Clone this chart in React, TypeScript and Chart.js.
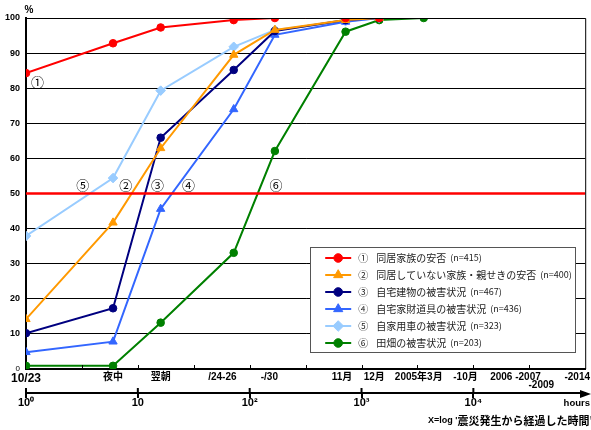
import React, { useEffect, useRef } from 'react';
import { Chart, registerables } from 'chart.js';
import { drawPoint } from 'chart.js/helpers';

Chart.register(...registerables);

// ---- data ----
const HOURS = [1, 6, 16, 72, 168, 720, 1440, 3600];
const SERIES_MARKS = ['①', '②', '③', '④', '⑤', '⑥'];
const SERIES_NAMES = [
  '同居家族の安否',
  '同居していない家族・親せきの安否',
  '自宅建物の被害状況',
  '自宅家財道具の被害状況',
  '自家用車の被害状況',
  '田畑の被害状況',
];
const SERIES_N = [415, 400, 467, 436, 323, 203];
const SAFETY_FAMILY = [84.3, 92.8, 97.3, 99.4, 100, 100, 100];
const SAFETY_RELATIVES = [14.2, 41.7, 62.9, 89.5, 96.6, 99.4, 100];
const HOUSE = [10.2, 17.3, 65.9, 85.2, 96.3, 99.4, 100];
const FURNITURE = [4.8, 7.8, 45.6, 74.0, 95.2, 98.9, 100];
const CAR = [37.9, 54.4, 79.3, 91.8, 96.6, 99.1, 100];
const FIELD = [0.9, 0.9, 13.2, 33.1, 62.1, 96.1, 99.4, 100];
const SERIES_COLORS = ['#FF0000', '#FF9900', '#000080', '#3366FF', '#99CCFF', '#008000'];
const SERIES_STYLES = ['circle', 'triangle', 'circle', 'triangle', 'rectRot', 'circle'];
const SERIES_VALUES = [SAFETY_FAMILY, SAFETY_RELATIVES, HOUSE, FURNITURE, CAR, FIELD];

const CAT_LABELS = ['10/23', '夜中', '翌朝', '/24-26', '-/30', '11月', '12月', '2005年3月', '-10月', '2006 -2007', '-2009', '-2014'];
const CAT_HOURS = [1, 6, 16, 57, 150, 670, 1300, 3250, 8500, 23800, 40500, 84900];
const DECADES = [1, 10, 100, 1000, 10000];
const DECADE_LABELS = ['10⁰', '10', '10²', '10³', '10⁴'];
const HALF_DECADES = [0.5, 1, 1.5, 2, 2.5, 3, 3.5, 4, 4.5].map((e) => Math.pow(10, e));
const THRESHOLD = 50;
const X_MIN = 1;
const X_MAX = 100000;

const SANS = "'Liberation Sans', Arial, 'Noto Sans CJK JP', sans-serif";
const JP = "'Noto Sans CJK JP', 'Noto Sans', sans-serif";

// annotation anchors in data coordinates (hours, %)
const ANNOT_POS: [number, number][] = [
  [1.27, 81.8],
  [7.8, 52.4],
  [15.0, 52.4],
  [28.4, 52.4],
  [3.22, 52.4],
  [172, 52.4],
];

const decorPlugin = {
  id: 'decor',
  afterDraw(chart: any) {
    const { ctx, chartArea: a, scales } = chart;
    const x = scales.x;
    const xh = scales.xh;
    const y = scales.y;
    ctx.save();
    // frame top / right
    ctx.strokeStyle = '#000';
    ctx.lineWidth = 1;
    ctx.beginPath();
    ctx.moveTo(a.left, a.top + 0.5);
    ctx.lineTo(a.right + 0.5, a.top + 0.5);
    ctx.lineTo(a.right + 0.5, a.bottom);
    ctx.stroke();
    // inner minor ticks
    ctx.beginPath();
    HALF_DECADES.forEach((v) => {
      const px = Math.round(x.getPixelForValue(v)) + 0.5;
      ctx.moveTo(px, a.bottom - 1);
      ctx.lineTo(px, a.bottom - 4);
    });
    ctx.stroke();
    // hours axis upward ticks + arrow
    const yb = xh.top + 1;
    ctx.lineWidth = 2;
    ctx.beginPath();
    DECADES.forEach((v) => {
      const px = xh.getPixelForValue(v);
      ctx.moveTo(px, yb);
      ctx.lineTo(px, yb - 6);
    });
    ctx.moveTo(a.right - 2, yb);
    ctx.lineTo(a.right + 2, yb);
    ctx.stroke();
    ctx.fillStyle = '#000';
    ctx.beginPath();
    ctx.moveTo(591, yb);
    ctx.lineTo(580, yb - 4);
    ctx.lineTo(580, yb + 4);
    ctx.closePath();
    ctx.fill();
    // texts
    ctx.textBaseline = 'middle';
    ctx.textAlign = 'center';
    ctx.font = `bold 10px ${SANS}`;
    ctx.fillText('%', 29, 10);
    ctx.textAlign = 'right';
    ctx.font = `bold 9.5px ${SANS}`;
    ctx.fillText('hours', 590, 403);
    ctx.textAlign = 'left';
    ctx.font = `bold 9px ${SANS}`;
    const cap1 = "X=log '";
    ctx.fillText(cap1, 428, 421);
    const cw = ctx.measureText(cap1).width;
    ctx.font = `bold 11px ${JP}`;
    ctx.fillText("震災発生から経過した時間'", 428 + cw, 421);
    // circled annotations
    ctx.textAlign = 'center';
    ctx.font = `13px ${JP}`;
    ANNOT_POS.forEach((p, i) => {
      ctx.fillText(SERIES_MARKS[i], x.getPixelForValue(p[0]), y.getPixelForValue(p[1]));
    });
    // legend
    const bw = 265;
    const bh = 105;
    const bx = a.right - 10 - bw;
    const by = a.bottom - 17 - bh;
    ctx.fillStyle = '#fff';
    ctx.fillRect(bx, by, bw, bh);
    ctx.strokeStyle = '#555';
    ctx.lineWidth = 1;
    ctx.strokeRect(Math.round(bx) + 0.5, Math.round(by) + 0.5, bw, bh);
    const ds = chart.data.datasets;
    for (let i = 0; i < SERIES_NAMES.length; i++) {
      const d = ds[i];
      const ry = by + 11 + i * 17;
      ctx.strokeStyle = d.borderColor;
      ctx.fillStyle = d.borderColor;
      ctx.lineWidth = 2;
      ctx.beginPath();
      ctx.moveTo(bx + 15, ry);
      ctx.lineTo(bx + 41, ry);
      ctx.stroke();
      ctx.lineWidth = 1;
      drawPoint(ctx, { pointStyle: d.pointStyle, radius: d.pointRadius + 0.5, rotation: 0, borderWidth: 1 } as any, bx + 28, ry);
      ctx.fillStyle = '#222';
      ctx.textAlign = 'left';
      ctx.font = `10px ${JP}`;
      ctx.fillText(SERIES_MARKS[i], bx + 48, ry);
      const name = SERIES_NAMES[i];
      ctx.fillText(name, bx + 66, ry);
      const w = ctx.measureText(name).width;
      ctx.font = `9px ${JP}`;
      ctx.fillText(`(n=${SERIES_N[i]})`, bx + 66 + w + 4, ry);
    }
    ctx.restore();
  },
};

export default function App() {
  const ref = useRef<HTMLCanvasElement>(null);
  useEffect(() => {
    document.body.style.margin = '0';
    const datasets: any[] = SERIES_VALUES.map((vals, i) => ({
      label: SERIES_NAMES[i],
      data: vals.map((v, j) => ({ x: HOURS[j], y: v })),
      borderColor: SERIES_COLORS[i],
      backgroundColor: SERIES_COLORS[i],
      pointBackgroundColor: SERIES_COLORS[i],
      pointBorderColor: SERIES_COLORS[i],
      pointStyle: SERIES_STYLES[i],
      pointRadius: SERIES_STYLES[i] === 'circle' ? 3.8 : 4.8,
      pointBorderWidth: 1,
      borderWidth: 2,
      tension: 0,
      fill: false,
    }));
    datasets.push({
      label: 'threshold',
      data: [
        { x: X_MIN, y: THRESHOLD },
        { x: X_MAX, y: THRESHOLD },
      ],
      borderColor: '#FF0000',
      borderWidth: 2.5,
      pointRadius: 0,
      order: -1,
      fill: false,
    });
    const chart = new Chart(ref.current as HTMLCanvasElement, {
      type: 'line',
      data: { datasets },
      options: {
        animation: false,
        responsive: false,
        layout: { padding: { top: 18, right: 4, bottom: 0, left: 0 } },
        plugins: { legend: { display: false }, tooltip: { enabled: false } },
        scales: {
          x: {
            type: 'logarithmic',
            position: 'bottom',
            weight: 0,
            min: X_MIN,
            max: X_MAX,
            afterBuildTicks: (s: any) => {
              s.ticks = CAT_HOURS.map((v) => ({ value: v }));
            },
            afterFit: (s: any) => {
              s.height = 24;
              s.paddingLeft = 0;
              s.paddingRight = 0;
            },
            grid: { display: false, drawTicks: false },
            border: { display: true, color: '#000', width: 2 },
            ticks: {
              autoSkip: false,
              maxRotation: 0,
              minRotation: 0,
              padding: 2,
              color: '#000',
              font: (c: any) =>
                c.index === 0
                  ? { family: SANS, size: 12, weight: 'bold' }
                  : c.index === 10
                  ? { family: SANS, size: 10, weight: 'bold', lineHeight: 0.93 }
                  : { family: SANS, size: 10, weight: 'bold' },
              callback: (_v: any, i: number) => (i === 10 ? ['', CAT_LABELS[i]] : CAT_LABELS[i]),
            },
          },
          xh: {
            type: 'logarithmic',
            axis: 'x',
            position: 'bottom',
            weight: 1,
            min: X_MIN,
            max: X_MAX,
            afterBuildTicks: (s: any) => {
              s.ticks = DECADES.map((v) => ({ value: v }));
            },
            afterFit: (s: any) => {
              s.height = 37;
              s.paddingLeft = 0;
              s.paddingRight = 0;
            },
            grid: { display: true, drawOnChartArea: false, drawTicks: true, tickLength: 5, color: '#000', lineWidth: 2 },
            border: { display: true, color: '#000', width: 2 },
            ticks: {
              autoSkip: false,
              maxRotation: 0,
              minRotation: 0,
              padding: -2,
              color: '#000',
              font: { family: SANS, size: 11, weight: 'bold' },
              callback: (_v: any, i: number) => DECADE_LABELS[i],
            },
          },
          y: {
            type: 'linear',
            position: 'left',
            min: 0,
            max: 100,
            afterFit: (s: any) => {
              s.width = 26;
            },
            grid: { color: '#000', lineWidth: 1, drawTicks: false },
            border: { display: true, color: '#000', width: 2 },
            ticks: {
              stepSize: 10,
              padding: 6,
              color: '#000',
              font: (c: any) =>
                c.tick && c.tick.value === 0
                  ? { family: SANS, size: 8, weight: 'normal' }
                  : { family: SANS, size: 9, weight: 'bold' },
            },
          },
        },
      } as any,
      plugins: [decorPlugin],
    });
    return () => chart.destroy();
  }, []);
  return (
    <div style={{ width: 591, height: 430 }}>
      <canvas ref={ref} width={591} height={430} style={{ display: 'block', width: 591, height: 430 }} />
    </div>
  );
}
